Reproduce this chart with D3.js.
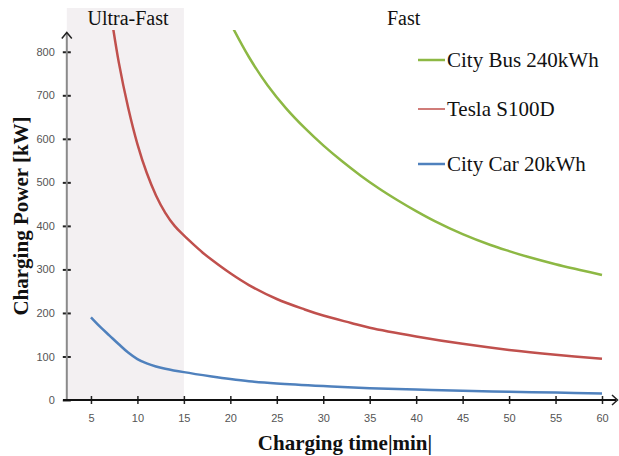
<!DOCTYPE html>
<html><head><meta charset="utf-8">
<script src="https://cdn.jsdelivr.net/npm/d3@7"></script>
<style>body{margin:0;background:#fff}svg{display:block}</style>
</head><body>
<svg id="c" width="619" height="456"></svg>
<script>
const xTicks = [5,10,15,20,25,30,35,40,45,50,55,60];
const yTicks = [0,100,200,300,400,500,600,700,800];
const ultraFast = [2.4, 15];
const seriesNames = ["City Bus 240kWh", "Tesla S100D", "City Car 20kWh"];
const seriesColors = ["#8DB844", "#C0504D", "#4F81BD"];
const busT = [20,22,24,26,28,30,32,34,36,38,40,42,45,48,50,52,55,58,60];
const busP = [866,788,723,670,625,585,549,516,486,459,434,411,381,356,342,329,312,297,287];
const teslaT = [7.2,8,9,10,11,12,13,14,15,16,17,18,20,22,25,28,30,33,35,40,45,50,55,60];
const teslaP = [880,775,672,588,522,470,430,400,378,358,339,322,291,264,232,208,194,177,166,146,129,115,104,95];
const carT = [5,6,7,8,9,10,11,12,13,15,18,20,22,25,30,35,40,45,50,55,60];
const carP = [190,168,148,128,109,94,84,77,72,64,54,48,43,38,32,27,24,21,19,17,15];

const svg = d3.select("#c");
const x = d3.scaleLinear().domain([0,60]).range([44.5,602]);
const y = d3.scaleLinear().domain([0,850]).range([400,30]);

// shaded ultra-fast zone
svg.append("rect").attr("x", x(ultraFast[0])).attr("y", 8)
  .attr("width", x(ultraFast[1]) - x(ultraFast[0])).attr("height", y(0) - 8)
  .attr("fill", "#f3f0f2");

svg.append("text").attr("x", 128).attr("y", 25).attr("text-anchor","middle")
  .attr("font-family","Liberation Serif").attr("font-size",20).attr("fill","#111").text("Ultra-Fast");
svg.append("text").attr("x", 387).attr("y", 25)
  .attr("font-family","Liberation Serif").attr("font-size",20).attr("fill","#111").text("Fast");

// y axis
const yAx = svg.append("g").attr("transform",`translate(${x(ultraFast[0])},0)`)
  .call(d3.axisLeft(y).tickValues(yTicks).tickSize(4).tickPadding(8));
yAx.select(".domain").remove();
yAx.selectAll(".tick line").attr("x2",4).attr("x1",-4).attr("stroke","#222").attr("stroke-width",2);
yAx.selectAll("text").attr("font-family","Liberation Sans").attr("font-size",11).attr("fill","#555");
svg.append("line").attr("x1",x(ultraFast[0])).attr("x2",x(ultraFast[0])).attr("y1",y(0)).attr("y2",33)
  .attr("stroke","#8a8a8a").attr("stroke-width",2);
svg.append("path").attr("d",`M${x(ultraFast[0])-5},38.5L${x(ultraFast[0])},32.5L${x(ultraFast[0])+5},38.5`)
  .attr("fill","none").attr("stroke","#222").attr("stroke-width",1.5);

// x axis
const xAx = svg.append("g").attr("transform",`translate(0,${y(0)})`)
  .call(d3.axisBottom(x).tickValues(xTicks).tickSize(4).tickPadding(10));
xAx.select(".domain").remove();
xAx.selectAll(".tick line").attr("y1",-4).attr("y2",4).attr("stroke","#222").attr("stroke-width",1.5);
xAx.selectAll("text").attr("font-family","Liberation Sans").attr("font-size",11).attr("fill","#555");
svg.append("line").attr("x1",63).attr("x2",616).attr("y1",y(0)).attr("y2",y(0))
  .attr("stroke","#111").attr("stroke-width",2);
svg.append("path").attr("d",`M612,395L617.5,400L612,405`)
  .attr("fill","none").attr("stroke","#222").attr("stroke-width",1.5);

// clip
svg.append("clipPath").attr("id","clip").append("rect")
  .attr("x",x(ultraFast[0])).attr("y",y(850)).attr("width",560).attr("height",y(0)-y(850));

const line = d3.line().x(d=>x(d[0])).y(d=>y(d[1])).curve(d3.curveCatmullRom.alpha(0.5));
const series = [
  d3.zip(busT, busP),
  d3.zip(teslaT, teslaP),
  d3.zip(carT, carP)
];
series.forEach((s,i)=>{
  svg.append("path").attr("d", line(s)).attr("fill","none")
    .attr("stroke", seriesColors[i]).attr("stroke-width",2.5).attr("clip-path","url(#clip)");
});

// legend
const legY = [60, 109, 164];
seriesNames.forEach((n,i)=>{
  svg.append("line").attr("x1",418).attr("x2",445).attr("y1",legY[i]).attr("y2",legY[i])
    .attr("stroke",seriesColors[i]).attr("stroke-width",i===1?1.5:2.5);
  svg.append("text").attr("x",447).attr("y",legY[i]+7).attr("font-family","Liberation Serif")
    .attr("font-size",21).attr("fill","#111").text(n);
});

// axis titles
svg.append("text").attr("transform","translate(28,216) rotate(-90)").attr("text-anchor","middle")
  .attr("font-family","Liberation Serif").attr("font-weight","bold").attr("font-size",21)
  .attr("fill","#111").text("Charging Power [kW]");
svg.append("text").attr("x",345).attr("y",450).attr("text-anchor","middle")
  .attr("font-family","Liberation Serif").attr("font-weight","bold").attr("font-size",21)
  .attr("fill","#111").text("Charging time|min|");
</script>
</body></html>
